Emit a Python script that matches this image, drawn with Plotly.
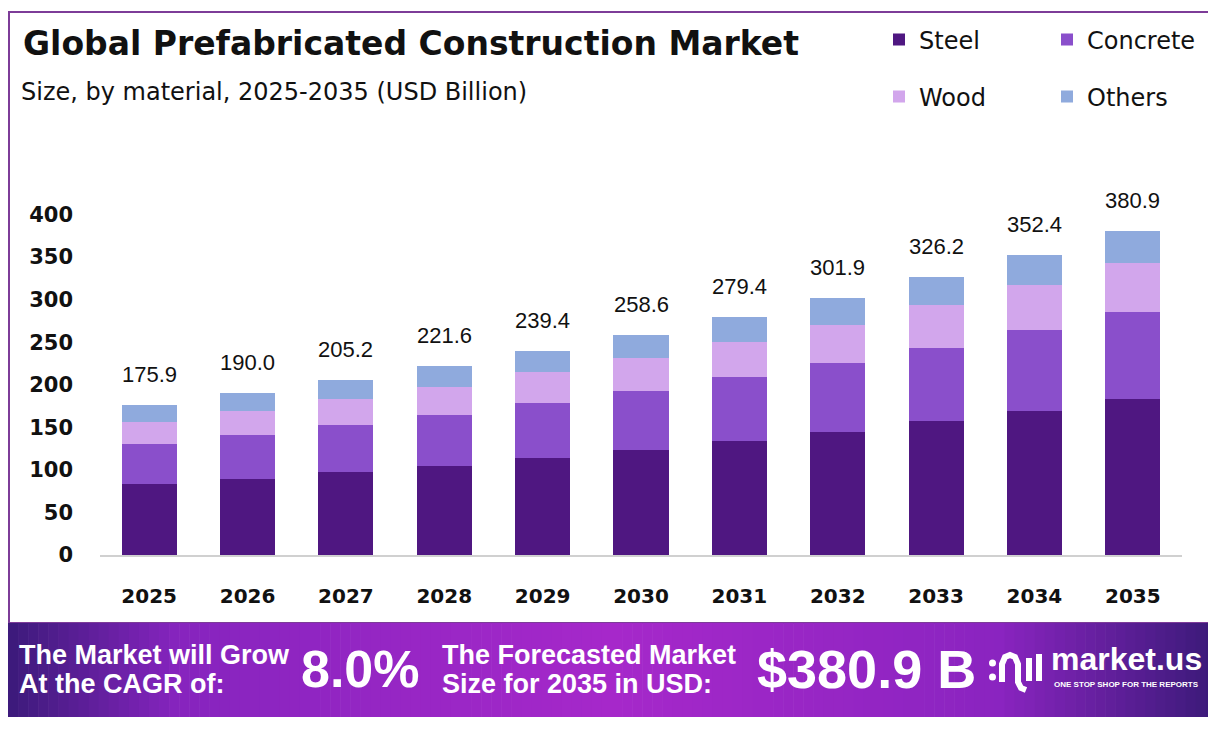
import plotly.graph_objects as go

# the page puts the figure 8px in from the window's corner, so the figure covers the rest
OFF = 8
W, H = 1216 - OFF, 731 - OFF

years = ["2025", "2026", "2027", "2028", "2029", "2030", "2031", "2032", "2033", "2034", "2035"]
steel = [83.6, 89.5, 97.8, 104.8, 113.4, 122.9, 133.5, 144.0, 157.0, 168.8, 183.0]
concrete = [47.1, 51.8, 55.3, 60.1, 64.8, 69.5, 75.3, 81.3, 86.8, 95.0, 102.0]
wood = [26.0, 28.3, 30.6, 33.0, 36.5, 38.8, 41.2, 44.7, 49.5, 53.4, 57.8]
others = [19.2, 20.4, 21.5, 23.7, 24.7, 27.4, 29.4, 31.9, 32.9, 35.2, 38.1]
totals = [175.9, 190.0, 205.2, 221.6, 239.4, 258.6, 279.4, 301.9, 326.2, 352.4, 380.9]

COLORS = {"Steel": "#4F1781", "Concrete": "#8A4FCB", "Wood": "#D2A6EC", "Others": "#8FAADD"}
BODY_FONT = "Liberation Sans"
HEAD_FONT = "DejaVu Sans"


def px(x):
    # window pixel -> paper x
    return (x - OFF) / W


def py(y):
    # window pixel -> paper y
    return 1 - (y - OFF) / H


def mix(c1, c2, t):
    a = [int(c1[i:i + 2], 16) for i in (1, 3, 5)]
    b = [int(c2[i:i + 2], 16) for i in (1, 3, 5)]
    return "#" + "".join(f"{round(a[k] + (b[k] - a[k]) * t):02x}" for k in range(3))


def banner_color(t):
    stops = [(0.0, "#3b1a7a"), (0.14, "#8624be"), (0.5, "#a628ca"), (0.82, "#8a24c0"), (1.0, "#3a1a78")]
    for (t0, c0), (t1, c1) in zip(stops[:-1], stops[1:]):
        if t0 <= t <= t1:
            return mix(c0, c1, (t - t0) / (t1 - t0))
    return stops[-1][1]


fig = go.Figure()
series = [("Steel", steel, "legend"), ("Concrete", concrete, "legend"),
          ("Wood", wood, "legend2"), ("Others", others, "legend2")]
for name, vals, lg in series:
    fig.add_trace(go.Bar(x=years, y=vals, name=name, marker_color=COLORS[name],
                         marker_line_width=0, legend=lg, hoverinfo="x+y+name"))

ann = []
# total labels above each stack (category axis: annotation x is the category's index)
for i, tot in enumerate(totals):
    ann.append(dict(x=i, y=tot, xref="x", yref="y", text=f"{tot:.1f}", showarrow=False,
                    yanchor="bottom", yshift=16, font=dict(family=BODY_FONT, size=22, color="#111111")))
n_data = len(ann)

shapes = []
# frame round the chart
shapes.append(dict(type="rect", xref="paper", yref="paper", x0=px(9), x1=px(1213), y0=py(623), y1=py(12),
                   line=dict(color="#7D3C98", width=2), fillcolor="rgba(0,0,0,0)", layer="below"))
# banner gradient in strips
n = 120
for i in range(n):
    x0 = OFF + W * i / n
    x1 = OFF + W * (i + 1) / n + 0.6
    shapes.append(dict(type="rect", xref="paper", yref="paper", x0=px(x0), x1=px(min(x1, 1216)),
                       y0=py(717), y1=py(623), line_width=0,
                       fillcolor=banner_color((i + 0.5) / n), layer="below"))

# logo icon, rough strokes
def pth(points):
    s = ""
    for k, (x, y) in enumerate(points):
        s += ("M" if k == 0 else "L") + f"{px(x):.5f},{py(y):.5f} "
    return s
icon = dict(type="path", xref="paper", yref="paper", line=dict(color="white", width=6))
shapes.append(dict(icon, path=pth([(1002, 682), (1002, 664), (1005, 657), (1010, 655), (1015, 657),
                                   (1018, 664), (1018, 682), (1021, 688), (1026, 690)])))
shapes.append(dict(icon, path=pth([(1029, 658), (1029, 681)])))
shapes.append(dict(icon, path=pth([(1039, 654), (1039, 681)])))
for cy in (663, 677):
    shapes.append(dict(type="circle", xref="paper", yref="paper", x0=px(989), x1=px(996),
                       y0=py(cy + 3.5), y1=py(cy - 3.5), fillcolor="white", line_width=0))

ann.append(dict(x=px(21), y=py(43), text="<b>Global Prefabricated Construction Market</b>",
                font=dict(family=HEAD_FONT, size=33, color="#111111"), xanchor="left", yanchor="middle"))
ann.append(dict(x=px(19), y=py(92), text="Size, by material, 2025-2035 (USD Billion)",
                font=dict(family=HEAD_FONT, size=24, color="#111111"), xanchor="left", yanchor="middle"))
white = "white"
banner_lines = [(17, 655, "The Market will Grow"), (17, 684, "At the CAGR of:"),
                (440, 655, "The Forecasted Market"), (440, 684, "Size for 2035 in USD:")]
for bx, by, txt in banner_lines:
    ann.append(dict(x=px(bx), y=py(by), text=f"<b>{txt}</b>",
                    font=dict(family=BODY_FONT, size=27, color=white), xanchor="left", yanchor="middle"))
ann.append(dict(x=px(299), y=py(669), text="<b>8.0%</b>",
                font=dict(family=BODY_FONT, size=52, color=white), xanchor="left", yanchor="middle"))
ann.append(dict(x=px(755), y=py(669), text="<b>$380.9 B</b>",
                font=dict(family=BODY_FONT, size=54, color=white), xanchor="left", yanchor="middle"))
ann.append(dict(x=px(1049), y=py(659), text="<b>market.us</b>",
                font=dict(family=BODY_FONT, size=32, color=white), xanchor="left", yanchor="middle"))
ann.append(dict(x=px(1052), y=py(684), text="<b>ONE STOP SHOP FOR THE REPORTS</b>",
                font=dict(family=BODY_FONT, size=8, color=white), xanchor="left", yanchor="middle"))
for a in ann[n_data:]:
    a.update(xref="paper", yref="paper", showarrow=False)

legend_font = dict(family=HEAD_FONT, size=24, color="#111111")
fig.update_layout(
    width=W, height=H,
    barmode="stack", bargap=0.44,
    paper_bgcolor="white", plot_bgcolor="white",
    margin=dict(l=0, r=0, t=0, b=0, autoexpand=False),
    xaxis=dict(type="category", range=[-0.5, len(years) - 0.5], domain=[px(100), px(1182)],
               showgrid=False, showline=True, linecolor="#d0d0d0", linewidth=2, ticks="",
               ticklabelstandoff=22, fixedrange=True,
               tickfont=dict(family=HEAD_FONT, size=20, color="#111111", weight="bold")),
    yaxis=dict(domain=[py(555), py(172)], range=[0, 450], showgrid=False, zeroline=False, showline=False,
               tickvals=[0, 50, 100, 150, 200, 250, 300, 350, 400], ticks="", ticklabelstandoff=26,
               fixedrange=True, tickfont=dict(family=HEAD_FONT, size=21, color="#111111", weight="bold")),
    legend=dict(orientation="h", x=px(879), y=py(40), xanchor="left", yanchor="middle",
                entrywidth=123, entrywidthmode="pixels", font=legend_font,
                bgcolor="rgba(0,0,0,0)", traceorder="normal"),
    legend2=dict(orientation="h", x=px(879), y=py(97), xanchor="left", yanchor="middle",
                 entrywidth=123, entrywidthmode="pixels", font=legend_font,
                 bgcolor="rgba(0,0,0,0)", traceorder="normal"),
    shapes=shapes,
    annotations=ann,
)

fig.write_html("out.html")
